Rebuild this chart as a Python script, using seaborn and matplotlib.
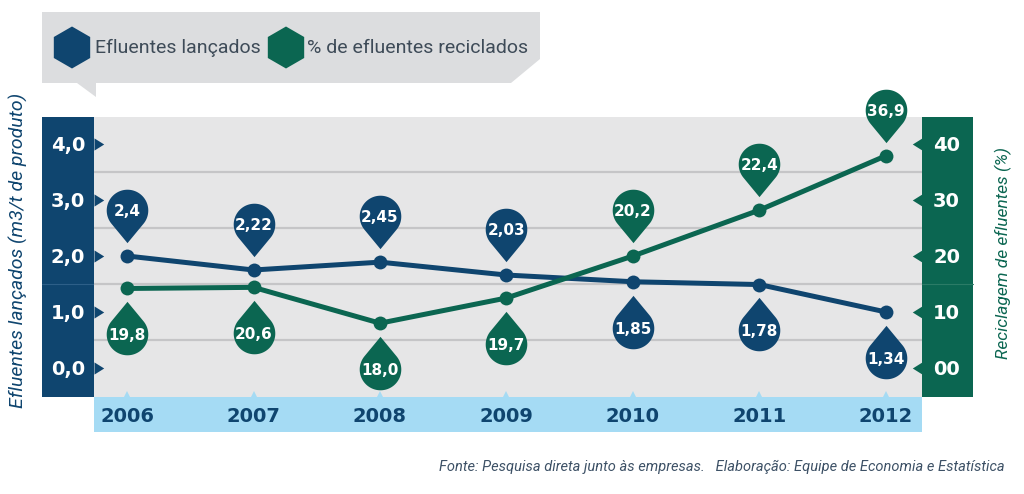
import numpy as np
import matplotlib.pyplot as plt
import seaborn as sns
from matplotlib.path import Path
from matplotlib.patches import Polygon, Rectangle, RegularPolygon
from matplotlib import transforms

anos = [2006, 2007, 2008, 2009, 2010, 2011, 2012]

efluentes_pos = [2.0, 1.75, 1.89, 1.66, 1.54, 1.49, 1.0]
reciclados_pos = [14.2, 14.4, 8.0, 12.5, 20.0, 28.2, 37.9]

# valores impressos nas gotas
efluentes_rot = ["2,4", "2,22", "2,45", "2,03", "1,85", "1,78", "1,34"]
reciclados_rot = ["19,8", "20,6", "18,0", "19,7", "20,2", "22,4", "36,9"]

# 1 = gota acima do ponto, -1 = abaixo
efluentes_lado = [1, 1, 1, 1, -1, -1, -1]
reciclados_lado = [-1, -1, -1, -1, 1, 1, 1]

ticks_esq = [0, 1, 2, 3, 4]
ticks_esq_rot = ["0,0", "1,0", "2,0", "3,0", "4,0"]
ticks_dir = [0, 10, 20, 30, 40]
ticks_dir_rot = ["00", "10", "20", "30", "40"]

AZUL = "#0f456f"
VERDE = "#0b6651"
AZUL_CLARO = "#a5dbf4"
CINZA = "#e6e6e7"
GRADE = "#c5c5c7"
TEXTO = "#3e4b58"

sns.set_style("white")
plt.rcParams["font.family"] = ["DejaVu Sans"]

W, H = 1024, 494
fig = plt.figure(figsize=(W / 100, H / 100), dpi=100)

# camada de fundo em pixels (faixas, legenda, textos)
bg = fig.add_axes([0, 0, 1, 1], zorder=0)
bg.set_xlim(0, W)
bg.set_ylim(H, 0)
bg.axis("off")

x0, x1, y0, y1 = 94, 922, 117, 397
ax = fig.add_axes([x0 / W, 1 - y1 / H, (x1 - x0) / W, (y1 - y0) / H], zorder=1)
ax.set_facecolor(CINZA)
ax.set_xlim(2005.739, 2012.285)
ax.set_ylim(-0.518, 4.482)
ax2 = ax.twinx()
ax2.set_zorder(2)
ax2.set_ylim(-5.18, 44.82)

bg.add_patch(Rectangle((42, y0), x0 - 42, y1 - y0, color=AZUL, lw=0))
bg.add_patch(Rectangle((x1, y0), 973 - x1, y1 - y0, color=VERDE, lw=0))
bg.add_patch(Rectangle((x0, y1), x1 - x0, 432 - y1, color=AZUL_CLARO, lw=0))
bg.plot([42, x0], [284, 284], color="#2d5f88", lw=0.8)
bg.plot([x1, 973], [284, 284], color="#2b7b66", lw=0.8)

for g in [0.5, 1.5, 2.5, 3.5]:
    ax.axhline(g, color=GRADE, lw=1.6, zorder=0.5)

sns.lineplot(x=anos, y=efluentes_pos, ax=ax, color=AZUL, lw=3.6,
             marker="o", markersize=10, markeredgewidth=0, zorder=3)
sns.lineplot(x=anos, y=reciclados_pos, ax=ax2, color=VERDE, lw=3.6,
             marker="o", markersize=10, markeredgewidth=0, zorder=3)

for a in (ax, ax2):
    for s in a.spines.values():
        s.set_visible(False)
    a.set_xlabel("")
    a.set_ylabel("")

ax.set_xticks(anos, [str(a) for a in anos])
ax.set_yticks(ticks_esq, ticks_esq_rot)
ax.tick_params(axis="x", length=0, pad=7, labelcolor=AZUL, labelsize=14)
ax.tick_params(axis="y", length=0, pad=6.5, labelcolor="white", labelsize=14)
ax2.set_yticks(ticks_dir, ticks_dir_rot)
ax2.tick_params(axis="y", length=0, pad=8, labelcolor="white", labelsize=14)
for lab in ax.get_xticklabels() + ax.get_yticklabels() + ax2.get_yticklabels():
    lab.set_fontweight("bold")

# setinhas das faixas laterais e da faixa dos anos
seta_dir = Path([(0, -1), (1.6, 0), (0, 1), (0, -1)], closed=True)
seta_esq = Path([(0, -1), (-1.6, 0), (0, 1), (0, -1)], closed=True)
tr_esq = transforms.blended_transform_factory(ax.transAxes, ax.transData)
tr_dir = transforms.blended_transform_factory(ax2.transAxes, ax2.transData)
ax.plot([0] * len(ticks_esq), ticks_esq, ls="none", marker=seta_dir, ms=14,
        color=AZUL, mew=0, transform=tr_esq, clip_on=False, zorder=4)
ax2.plot([1] * len(ticks_dir), ticks_dir, ls="none", marker=seta_esq, ms=14,
         color=VERDE, mew=0, transform=tr_dir, clip_on=False, zorder=4)
tr_anos = transforms.blended_transform_factory(ax.transData, ax.transAxes)
ax.plot(anos, [0] * len(anos), ls="none", marker="^", ms=8, color=AZUL_CLARO,
        mew=0, transform=tr_anos, clip_on=False, zorder=4)


def gota(lado):
    d = 1.57
    th = np.degrees(np.arccos(1 / d))
    ang = np.radians(np.linspace(-90 + th, 270 - th, 80))
    v = np.column_stack([np.cos(ang), np.sin(ang)])
    v = np.vstack([v, [0, -d], v[:1]])
    if lado < 0:
        v[:, 1] *= -1
    return Path(v, closed=True)


def desenha_gotas(a, xs, ys, rots, lados, cor):
    for x, y, r, l in zip(xs, ys, rots, lados):
        tr = transforms.offset_copy(a.transData, fig=fig, x=0, y=33 * l, units="points")
        a.plot([x], [y], ls="none", marker=gota(l), ms=47, color=cor, mew=0,
               transform=tr, clip_on=False, zorder=5)
        a.text(x, y, r, transform=tr, ha="center", va="center_baseline",
               color="white", fontsize=11, fontweight="bold", zorder=6, clip_on=False)


desenha_gotas(ax, anos, efluentes_pos, efluentes_rot, efluentes_lado, AZUL)
desenha_gotas(ax2, anos, reciclados_pos, reciclados_rot, reciclados_lado, VERDE)

# caixa da legenda
caixa = [(42, 12), (540, 12), (540, 59), (511, 83), (96, 83), (96, 97), (77, 83), (42, 83)]
bg.add_patch(Polygon(caixa, closed=True, color="#dcdddf", lw=0))
bg.add_patch(RegularPolygon((72, 47.5), 6, radius=21, orientation=0, color=AZUL, lw=0))
bg.add_patch(RegularPolygon((286, 47.5), 6, radius=21, orientation=0, color=VERDE, lw=0))
bg.text(95, 48, "Efluentes lançados", ha="left", va="center", fontsize=14,
        color=TEXTO, family=["Roboto", "DejaVu Sans"])
bg.text(307, 48, "% de efluentes reciclados", ha="left", va="center", fontsize=14,
        color=TEXTO, family=["Roboto", "DejaVu Sans"])

bg.text(18, 250, "Efluentes lançados (m3/t de produto)", rotation=90, ha="center",
        va="center", fontsize=14, color=AZUL, style="italic",
        family=["Roboto", "DejaVu Sans"])
bg.text(1003, 253, "Reciclagem de efluentes (%)", rotation=90, ha="center",
        va="center", fontsize=12.5, color=VERDE, style="italic",
        family=["Roboto", "DejaVu Sans"])

bg.text(1005, 467, "Fonte: Pesquisa direta junto às empresas.   Elaboração: Equipe de Economia e Estatística",
        ha="right", va="center", fontsize=10.5, color="#3d5166", style="italic",
        family=["Roboto", "DejaVu Sans"])

fig.savefig("out.png", dpi=100)
